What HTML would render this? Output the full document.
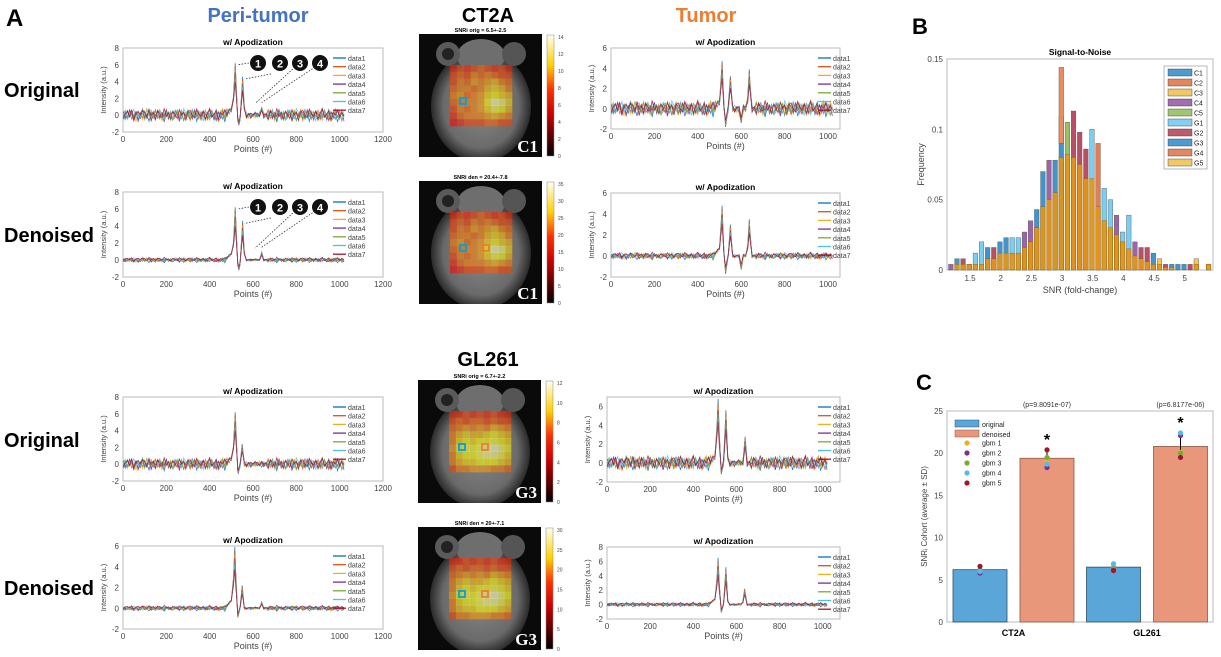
<!DOCTYPE html>
<html><head><meta charset="utf-8">
<style>
body{margin:0;background:#fff;width:1221px;height:657px;overflow:hidden;font-family:"Liberation Sans",sans-serif}
svg{position:absolute;left:0;top:0}
</style></head>
<body>
<svg id="fig" width="1221" height="657" viewBox="0 0 1221 657">
<defs>
<radialGradient id="brainG" cx="50%" cy="50%" r="50%">
<stop offset="0" stop-color="#8a8a8a"/><stop offset="0.75" stop-color="#6a6a6a"/><stop offset="1" stop-color="#2a2a2a"/>
</radialGradient>
<linearGradient id="hotBar" x1="0" y1="1" x2="0" y2="0">
<stop offset="0" stop-color="#000"/><stop offset="0.35" stop-color="#c00"/><stop offset="0.55" stop-color="#ff3000"/><stop offset="0.75" stop-color="#ffd000"/><stop offset="1" stop-color="#fffff0"/>
</linearGradient>
</defs>
<g font-weight="bold">
<text x="6" y="26" font-size="24">A</text>
<text x="912" y="34" font-size="22">B</text>
<text x="916" y="390" font-size="22">C</text>
<text x="258" y="22" font-size="20" fill="#4472c4" text-anchor="middle">Peri-tumor</text>
<text x="488" y="22" font-size="20" text-anchor="middle">CT2A</text>
<text x="706" y="22" font-size="20" fill="#ed7d31" text-anchor="middle">Tumor</text>
<text x="488" y="366" font-size="20" text-anchor="middle">GL261</text>
<text x="4" y="97" font-size="20">Original</text>
<text x="4" y="242" font-size="20">Denoised</text>
<text x="4" y="447" font-size="20">Original</text>
<text x="4" y="595" font-size="20">Denoised</text>
</g>
</svg>
<script>
// ---------- data ----------
const seriesColors=["#0072BD","#D95319","#EDB120","#7E2F8E","#77AC30","#4DBEEE","#A2142F"];
const seriesNames=["data1","data2","data3","data4","data5","data6","data7"];
const noiseA=[0.3,-0.5,0.8,-0.2,0.4,-0.7,0.6,0.1,-0.4,0.9,-0.3,0.2,-0.8,0.5,0.0,-0.6,0.7,-0.1,0.3,-0.9,0.4,0.6,-0.2,-0.5,0.8,0.1,-0.3,0.5,-0.7,0.2,0.9,-0.4,0.0,0.6,-0.8,0.3,-0.1,0.7,-0.5,0.4,-0.2,0.8,-0.6,0.1,0.5,-0.3,0.7,-0.9,0.2,0.4,-0.1,0.6];
const noiseB=[-0.4,0.6,-0.1,0.7,-0.8,0.2,0.5,-0.6,0.3,-0.2,0.8,-0.5,0.1,0.6,-0.9,0.4,-0.3,0.7,-0.1,0.5,-0.7,0.2,0.9,-0.4,0.0,0.3,-0.6,0.8,-0.2,0.4,-0.5,0.1,0.7,-0.8,0.3,0.6,-0.3,0.2,-0.7,0.9,-0.1,0.4,-0.5,0.6,-0.2,0.8,-0.6,0.3,0.1,-0.4,0.5,-0.8];
const noiseC=[0.6,0.1,-0.7,0.4,0.2,-0.3,-0.8,0.7,0.5,-0.1,-0.6,0.9,0.3,-0.4,0.2,0.8,-0.5,-0.2,0.6,0.1,-0.9,0.5,0.3,-0.7,0.4,-0.1,0.8,-0.3,0.2,-0.6,0.7,0.4,-0.8,0.1,0.5,-0.2,0.6,-0.7,0.3,0.0,0.8,-0.5,0.2,-0.4,0.9,-0.1,-0.6,0.4,0.7,-0.3,0.1,-0.2];
// peaks per plot: [position, height]
const peaksPeriCT2A=[[518,6.2],[535,-1.2],[552,4.6],[640,0.9]];
const peaksTumCT2A=[[512,4.7],[528,-1.8],[550,3.2],[600,-1.4],[637,3.9]];
const peaksPeriGL=[[518,6.2],[532,-1.1],[550,2.4]];
const peaksTumGL=[[515,6.8],[530,-1.2],[551,5.6],[640,2.8]];
const peaksPeriGLden=[[516,5.9],[530,-0.9],[550,2.2],[640,0.6]];
const peaksTumGLden=[[515,6.5],[530,-1.1],[551,5.2],[638,2.2]];
const peaksTumCT2Aden=[[512,4.8],[528,-1.7],[550,3.0],[600,-1.3],[637,3.5]];
// ---------- helpers ----------
const NS="http://www.w3.org/2000/svg";
const fig=document.getElementById('fig');
function mk(tag,attrs,parent,text){const e=document.createElementNS(NS,tag);for(const k in attrs)e.setAttribute(k,attrs[k]);if(text!==undefined)e.textContent=text;(parent||fig).appendChild(e);return e;}

function spec(name,x0,x1,yTop,yBot,ymin,ymax,yticks,xmax,xticks,peaks,amp,legX){
  const g=mk('g',{});
  
  
  const sx=v=>x0+(v/xmax)*(x1-x0);
  const sy=v=>yBot-(v-ymin)/(ymax-ymin)*(yBot-yTop);
  mk('rect',{x:x0,y:yTop,width:x1-x0,height:yBot-yTop,fill:'#fff',stroke:'#bbb','stroke-width':1},g);
  const cp='cp'+name;
  const c=mk('clipPath',{id:cp},g);mk('rect',{x:x0,y:yTop,width:x1-x0,height:yBot-yTop},c);
  const lines=mk('g',{'clip-path':'url(#'+cp+')'},g);
  const noises=[noiseA,noiseB,noiseC];
  let xs=[];for(let i=0;i<=102;i++)xs.push(i*10);
  peaks.forEach(p=>xs.push(p[0]));
  xs.sort((a,b)=>a-b);
  for(let s=0;s<7;s++){
    let d='';
    xs.forEach((x,k)=>{
      const i=Math.round(x/10);
      let v=noises[s%3][(i+s*7)%52]*amp+(s-3)*0.03;
      if(x>=490&&x<=660)v*=0.5;
      if(x>=470&&x<=510)v+=(x-470)/40*1.0;
      for(const p of peaks){const t=1-Math.abs(x-p[0])/10;if(t>0){v=v*(1-t)+p[1]*t*(1-0.06*s);}}
      d+=(k?'L':'M')+sx(x).toFixed(1)+','+sy(v).toFixed(1);
    });
    const l=mk('path',{d:d,fill:'none',stroke:seriesColors[s],'stroke-width':0.8,opacity:0.85},lines);
    
    
  }
  for(const t of yticks){mk('text',{x:x0-4,y:sy(t)+3,'font-size':8,fill:'#444','text-anchor':'end'},g,String(t));}
  for(const t of xticks){mk('text',{x:sx(t),y:yBot+10,'font-size':8,fill:'#444','text-anchor':'middle'},g,String(t));}
  mk('text',{x:(x0+x1)/2,y:yBot+20,'font-size':9,fill:'#444','text-anchor':'middle'},g,'Points (#)');
  mk('text',{x:(x0+x1)/2,y:yTop-3,'font-size':8.5,'font-weight':'bold','text-anchor':'middle'},g,'w/ Apodization');
  mk('text',{transform:`translate(${x0-17},${(yTop+yBot)/2}) rotate(-90)`,'font-size':7.5,fill:'#444','text-anchor':'middle'},g,'Intensity (a.u.)');
  for(let s=0;s<7;s++){
    const ly=yTop+10+s*8.7;
    mk('line',{x1:legX,x2:legX+13,y1:ly,y2:ly,stroke:seriesColors[s],'stroke-width':1.3},g);
    const lt=mk('text',{x:legX+15,y:ly+3,'font-size':7,fill:'#444'},g,seriesNames[s]);
    
    
  }
  return {g,sx,sy};
}
const xtP=[0,200,400,600,800,1000,1200], xtT=[0,200,400,600,800,1000];
const p1=spec('peri-ct2a-original',123,383,48,132,-2,8,[8,6,4,2,0,-2],1200,xtP,peaksPeriCT2A,0.8,333);
const p2=spec('peri-ct2a-denoised',123,383,192,277,-2,8,[8,6,4,2,0,-2],1200,xtP,peaksPeriCT2A,0.25,333);
spec('tumor-ct2a-original',611,840,48,129,-2,6,[6,4,2,0,-2],1055,xtT,peaksTumCT2A,0.8,818);
spec('tumor-ct2a-denoised',611,840,193,277,-2,6,[6,4,2,0,-2],1055,xtT,peaksTumCT2Aden,0.3,818);
spec('peri-gl261-original',123,383,397,481,-2,8,[8,6,4,2,0,-2],1200,xtP,peaksPeriGL,0.75,333);
spec('peri-gl261-denoised',123,383,546,629,-2,6,[6,4,2,0,-2],1200,xtP,peaksPeriGLden,0.2,333);
spec('tumor-gl261-original',607,840,397,482,-2,7,[6,4,2,0,-2],1080,xtT,peaksTumGL,0.8,818);
spec('tumor-gl261-denoised',607,840,547,619,-2,8,[8,6,4,2,0,-2],1080,xtT,peaksTumGLden,0.25,818);
// numbered peak markers
[[p1,58],[p2,202]].forEach(([p,cy])=>{
  const xs=[258,280,300,320];
  const tgt=[[p.sx(530),p.sy(6)],[p.sx(560),p.sy(4.3)],[p.sx(610),p.sy(1.4)],[p.sx(640),p.sy(1.5)]];
  xs.forEach((x,i)=>{
    mk('line',{x1:i<2?x-9:x-5,y1:i<2?cy+(i?16:5):cy+9,x2:tgt[i][0],y2:tgt[i][1],stroke:'#333','stroke-width':0.8,'stroke-dasharray':'1.5,1.5'});
    const c=mk('circle',{cx:x,cy:cy+5,r:8,fill:'#111'});
    
    
    mk('text',{x:x,y:cy+9.5,'font-size':11,'font-weight':'bold',fill:'#fff','text-anchor':'middle'},null,String(i+1));
  });
});

// ---------- SNR maps ----------
const gridCT2A=[
[0.45,0.5,0.45,0.5,0.55,0.5,0.45,0.5,0.45],
[0.5,0.55,0.5,0.6,0.55,0.6,0.55,0.5,0.5],
[0.5,0.6,0.55,0.65,0.6,0.65,0.7,0.6,0.55],
[0.55,0.6,0.6,0.55,0.6,0.7,0.75,0.7,0.6],
[0.6,0.65,0.55,0.6,0.65,0.75,0.8,0.75,0.7],
[0.55,0.6,0.6,0.6,0.65,0.8,0.95,0.9,0.75],
[0.5,0.6,0.55,0.6,0.65,0.75,0.85,0.8,0.7],
[0.45,0.55,0.6,0.6,0.6,0.65,0.7,0.65,0.6],
[0.4,0.45,0.5,0.5,0.5,0.55,0.55,0.5,0.5]];
const gridGL=[
[0.45,0.45,0.5,0.45,0.5,0.45,0.5,0.45,0.45],
[0.5,0.55,0.5,0.55,0.55,0.5,0.55,0.5,0.5],
[0.55,0.6,0.65,0.6,0.65,0.6,0.7,0.65,0.6],
[0.6,0.7,0.75,0.7,0.7,0.75,0.8,0.75,0.7],
[0.6,0.75,0.8,0.75,0.8,0.8,0.85,0.8,0.75],
[0.65,0.8,0.85,0.8,0.85,0.9,0.95,0.9,0.8],
[0.6,0.75,0.8,0.8,0.85,0.9,0.9,0.85,0.75],
[0.6,0.7,0.75,0.75,0.8,0.8,0.8,0.75,0.7],
[0.5,0.6,0.6,0.65,0.65,0.65,0.6,0.6,0.55]];
const mapTitles=["SNRi orig = 6.5+-2.5","SNRi den = 20.4+-7.8","SNRi orig = 6.7+-2.2","SNRi den = 20+-7.1"];
const mapLabels=["C1","C1","G3","G3"];
const mapMax=[14,35,12,30];
const mapCbTicks=[[0,2,4,6,8,10,12,14],[0,5,10,15,20,25,30,35],[0,2,4,6,8,10,12],[0,5,10,15,20,25,30]];
function hot(v){v=Math.max(0,Math.min(1,v));
  const r=Math.min(1,v/0.4),g=Math.max(0,Math.min(1,(v-0.4)/0.4)),b=Math.max(0,(v-0.8)/0.2);
  return `rgb(${Math.round(r*255)},${Math.round(g*255)},${Math.round(b*255)})`;}
function snrMap(i,x0,y0,grid,showOrange){
  const g=mk('g',{});
  
  
  const S=123;
  const cid='mapclip'+i;
  const cp=mk('clipPath',{id:cid},g);mk('rect',{x:x0,y:y0,width:S,height:S},cp);
  const im=mk('g',{'clip-path':'url(#'+cid+')'},g);
  mk('rect',{x:x0,y:y0,width:S,height:S,fill:'#0a0a0a'},im);
  mk('ellipse',{cx:x0+62,cy:y0+72,rx:50,ry:56,fill:'url(#brainG)'},im);
  mk('ellipse',{cx:x0+62,cy:y0+22,rx:24,ry:17,fill:'#6e6e6e'},im);
  mk('circle',{cx:x0+29,cy:y0+20,r:12,fill:'#5a5a5a'},im);
  mk('circle',{cx:x0+29,cy:y0+20,r:6,fill:'#222'},im);
  mk('circle',{cx:x0+95,cy:y0+20,r:12,fill:'#555'},im);
  const cw=62/9, ch=61/9;
  grid.forEach((row,r)=>row.forEach((v,c)=>{
    mk('rect',{x:x0+31+c*cw,y:y0+31+r*ch,width:cw+0.3,height:ch+0.3,fill:hot(v),opacity:0.55},im);
  }));
  mk('rect',{x:x0+41,y:y0+64,width:6,height:6,fill:'none',stroke:'#00a0e0','stroke-width':1.8},g);
  if(showOrange)mk('rect',{x:x0+64,y:y0+64,width:6,height:6,fill:'none',stroke:'#ed7d31','stroke-width':1.8},g);
  mk('text',{x:x0+S-4,y:y0+S-5,'font-size':17,'font-family':'Liberation Serif, serif','font-weight':'bold',fill:'#fff','text-anchor':'end'},g,mapLabels[i]);
  mk('text',{x:x0+S/2,y:y0-2,'font-size':5.5,'font-weight':'bold','text-anchor':'middle'},g,mapTitles[i]);
  const cb=mk('rect',{x:x0+128,y:y0+1,width:7,height:S-2,fill:'url(#hotBar)',stroke:'#888','stroke-width':0.5},g);
  
  
  mapCbTicks[i].forEach(t=>{const y=y0+S-1-(t/mapMax[i])*(S-4);
    mk('text',{x:x0+139,y:y+2,'font-size':5,fill:'#444'},g,String(t));});
}
snrMap(0,419,34,gridCT2A,false);
snrMap(1,419,181,gridCT2A,true);
snrMap(2,418,380,gridGL,true);
snrMap(3,418,527,gridGL,true);

// ---------- Histogram B ----------
const binStarts=[1.15,1.25,1.35,1.45,1.55,1.65,1.75,1.85,1.95,2.05,2.15,2.25,2.35,2.45,2.55,2.65,2.75,2.85,2.95,3.05,3.15,3.25,3.35,3.45,3.55,3.65,3.75,3.85,3.95,4.05,4.15,4.25,4.35,4.45,4.55,4.65,4.75,4.85,4.95,5.05,5.15,5.25,5.35];
const histOrange=[0,0.004,0.004,0.004,0.004,0.004,0.008,0.008,0.012,0.012,0.012,0.012,0.016,0.02,0.03,0.045,0.05,0.055,0.08,0.082,0.08,0.075,0.065,0.065,0.045,0.035,0.03,0.025,0.02,0.015,0.01,0.008,0.006,0.004,0.004,0.002,0.002,0,0,0,0.004,0,0.004];
const histTop=[0.004,0.008,0.008,0.004,0.012,0.02,0.016,0.016,0.02,0.023,0.023,0.023,0.027,0.035,0.043,0.07,0.078,0.078,0.109,0.105,0.113,0.098,0.086,0.1,0.09,0.058,0.05,0.039,0.027,0.039,0.02,0.016,0.016,0.012,0.008,0.004,0.004,0.004,0.004,0.004,0.008,0,0.004];
const histTopColor=[3,0,6,0,5,5,0,6,0,0,5,5,3,3,0,0,3,7,7,4,6,6,6,5,8,5,5,3,5,5,3,6,6,0,9,6,0,7,0,6,9,0,9];
const histPeak=[[3.05,0.144]];
const histLegend=["C1","C2","C3","C4","C5","G1","G2","G3","G4","G5"];
const histColors=["#0072BD","#D95319","#EDB120","#7E2F8E","#77AC30","#4DBEEE","#A2142F","#0072BD","#D95319","#EDB120"];
(function(){
  const g=mk('g',{});
  
  
  const X0=947,X1=1213,Y0=59,Y1=270,xmin=1.125,xmax=5.46;
  const sx=v=>X0+(v-xmin)/(xmax-xmin)*(X1-X0), sy=v=>Y1-v/0.15*(Y1-Y0);
  mk('rect',{x:X0,y:Y0,width:X1-X0,height:Y1-Y0,fill:'#fff',stroke:'#bbb'},g);
  binStarts.forEach((b,i)=>{
    const w=sx(b+0.075)-sx(b);
    const t=mk('rect',{x:sx(b),y:sy(histTop[i]),width:w,height:Y1-sy(histTop[i]),fill:histColors[histTopColor[i]],'fill-opacity':0.75,stroke:'#555','stroke-width':0.4},g);
    
    
    const o=mk('rect',{x:sx(b),y:sy(histOrange[i]),width:w,height:Y1-sy(histOrange[i]),fill:'#e8960f','fill-opacity':0.9,stroke:'#8a5a10','stroke-width':0.4},g);
    
    
  });
  histPeak.forEach(p=>{mk('rect',{x:sx(p[0]-0.1),y:sy(p[1]),width:sx(p[0]-0.025)-sx(p[0]-0.1),height:sy(0.09)-sy(p[1]),fill:'#ee8a60',stroke:'#555','stroke-width':0.4},g);});
  [0,0.05,0.1,0.15].forEach(t=>mk('text',{x:X0-4,y:sy(t)+3,'font-size':8,fill:'#444','text-anchor':'end'},g,String(t)));
  [1.5,2,2.5,3,3.5,4,4.5,5].forEach(t=>mk('text',{x:sx(t),y:Y1+11,'font-size':8,fill:'#444','text-anchor':'middle'},g,String(t)));
  mk('text',{x:(X0+X1)/2,y:Y1+23,'font-size':9,fill:'#444','text-anchor':'middle'},g,'SNR (fold-change)');
  mk('text',{transform:`translate(${X0-23},${(Y0+Y1)/2}) rotate(-90)`,'font-size':9,fill:'#444','text-anchor':'middle'},g,'Frequency');
  mk('text',{x:(X0+X1)/2,y:Y0-4,'font-size':8.5,'font-weight':'bold','text-anchor':'middle'},g,'Signal-to-Noise');
  mk('rect',{x:1164,y:66,width:43,height:103,fill:'#fff',stroke:'#888','stroke-width':0.6},g);
  histLegend.forEach((n,i)=>{const y=69+i*10;
    mk('rect',{x:1168,y:y,width:24,height:7,fill:histColors[i],'fill-opacity':0.7,stroke:'#333','stroke-width':0.4},g);
    const lt=mk('text',{x:1194,y:y+6.5,'font-size':7,fill:'#222'},g,n);
    
    });
})();

// ---------- Bar chart C ----------
const cohorts=["CT2A","GL261"];
const origMeans=[6.2,6.5];
const denMeans=[19.4,20.8];
const origDots=[[6.2,5.8,6.2,6.0,6.6],[6.4,6.3,6.5,6.9,6.1]];
const denDots=[[19.0,18.3,19.5,18.7,20.4],[20.1,22.1,20.0,22.4,19.5]];
const denSD=[1.1,1.3];
const origSD=[0.35,0.35];
const pLabels=["(p=9.8091e-07)","(p=6.8177e-06)"];
const dotColors=["#EDB120","#7E2F8E","#77AC30","#4DBEEE","#A2142F"];
const dotNames=["gbm 1","gbm 2","gbm 3","gbm 4","gbm 5"];
(function(){
  const g=mk('g',{});
  
  
  const X0=947,X1=1213,Y0=411,Y1=622;
  const sy=v=>Y1-v/25*(Y1-Y0);
  mk('rect',{x:X0,y:Y0,width:X1-X0,height:Y1-Y0,fill:'#fff',stroke:'#bbb'},g);
  const groupCenter=i=>X0+66.5+i*133.5, bw=54;
  cohorts.forEach((c,i)=>{
    const gc=groupCenter(i);
    [[origMeans[i],'#5ba6d9','#2a4f6a',-33.5,origDots[i],origSD[i]],[denMeans[i],'#e8977a','#8a5a4a',33.5,denDots[i],denSD[i]]].forEach(([m,f,s,off,dots,sd],k)=>{
      const cx=gc+off;
      const b=mk('rect',{x:cx-bw/2,y:sy(m),width:bw,height:Y1-sy(m),fill:f,stroke:s,'stroke-width':0.8},g);
      
      
      mk('line',{x1:cx,x2:cx,y1:sy(m-sd),y2:sy(m+sd),stroke:'#000','stroke-width':1},g);
      mk('line',{x1:cx-2,x2:cx+2,y1:sy(m-sd),y2:sy(m-sd),stroke:'#000'},g);
      mk('line',{x1:cx-2,x2:cx+2,y1:sy(m+sd),y2:sy(m+sd),stroke:'#000'},g);
      dots.forEach((d,j)=>{const p=mk('circle',{cx:cx,cy:sy(d),r:2.6,fill:dotColors[j]},g);
        
        });
      if(k){const top=Math.max(...dots);
        mk('text',{x:cx,y:sy(top)-5,'font-size':16,'font-weight':'bold','text-anchor':'middle'},g,'*');
        mk('text',{x:cx,y:Y0-4,'font-size':7,fill:'#333','text-anchor':'middle'},g,pLabels[i]);}
    });
    mk('text',{x:gc,y:Y1+14,'font-size':9,'font-weight':'bold','text-anchor':'middle'},g,c);
  });
  [0,5,10,15,20,25].forEach(t=>mk('text',{x:X0-4,y:sy(t)+3,'font-size':8,fill:'#444','text-anchor':'end'},g,String(t)));
  mk('text',{transform:`translate(${X0-20},${(Y0+Y1)/2}) rotate(-90)`,'font-size':8,fill:'#444','text-anchor':'middle'},g,'SNR\u1D62 Cohort (average ± SD)');
  mk('rect',{x:955,y:420,width:24,height:7,fill:'#5ba6d9',stroke:'#2a4f6a','stroke-width':0.5},g);
  mk('text',{x:982,y:427,'font-size':7,fill:'#222'},g,'original');
  mk('rect',{x:955,y:430,width:24,height:7,fill:'#e8977a',stroke:'#8a5a4a','stroke-width':0.5},g);
  mk('text',{x:982,y:437,'font-size':7,fill:'#222'},g,'denoised');
  dotNames.forEach((n,j)=>{const y=443+j*10;
    mk('circle',{cx:967,cy:y,r:2.6,fill:dotColors[j]},g);
    const lt=mk('text',{x:982,y:y+2.5,'font-size':7,fill:'#222'},g,n);
    
    });
})();
</script>
</body></html>
